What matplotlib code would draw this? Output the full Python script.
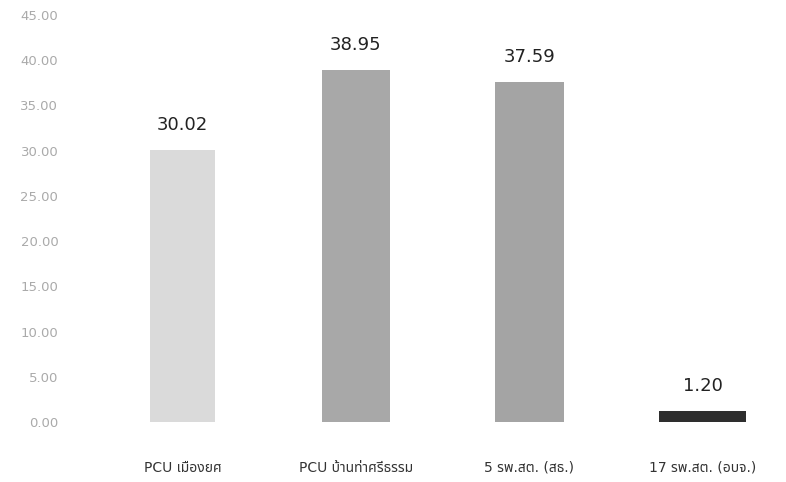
import matplotlib.pyplot as plt
from matplotlib import font_manager
from matplotlib.ft2font import FT2Font

# data
categories = ['PCU เมืองยศ', 'PCU บ้านท่าศรีธรรม', '5 รพ.สต. (สธ.)', '17 รพ.สต. (อบจ.)']
values = [30.02, 38.95, 37.59, 1.20]
bar_colors = ['#dadada', '#a8a8a8', '#a4a4a4', '#2e2e2e']
bar_widths = [0.37, 0.39, 0.40, 0.50]
yticks = [0, 5, 10, 15, 20, 25, 30, 35, 40, 45]

# find fonts with Thai glyphs, prefer proportional ones
thai_fonts = []
for path in font_manager.findSystemFonts():
    try:
        f = FT2Font(path)
        if f.get_char_index(0x0E01) and f.get_char_index(0x0E37):
            thai_fonts.append(font_manager.FontProperties(fname=path).get_name())
    except Exception:
        continue
thai_fonts = sorted(set(thai_fonts))
preferred = [n for n in thai_fonts if 'Mono' not in n and 'Typo' not in n and 'Typist' not in n]
for want in ['Noto Sans Thai', 'Noto Sans Thai Looped', 'Loma', 'Garuda', 'Waree', 'Umpush', 'Laksaman']:
    if want in thai_fonts:
        preferred.insert(0, want)
        break
label_families = ['DejaVu Sans']
if preferred:
    label_families = ['DejaVu Sans', preferred[0]]
elif thai_fonts:
    label_families = ['DejaVu Sans', thai_fonts[0]]
plt.rcParams['font.family'] = ['DejaVu Sans']

fig = plt.figure(figsize=(7.86, 4.82), dpi=100)
ax = fig.add_axes([0.0954, 0.1245, 0.9046, 0.8445])

x = range(len(categories))
ax.bar(x, values, width=bar_widths, color=bar_colors)

for xi, v in zip(x, values):
    ax.annotate(f'{v:.2f}', (xi, v), xytext=(0, 18), textcoords='offset points',
                ha='center', va='center', fontsize=13, color='#222222')

ax.set_xlim(-0.62, 3.48)
ax.set_ylim(0, 45)
ax.set_yticks(yticks)
ax.set_yticklabels([f'{t:.2f}' for t in yticks], color='#aaaaaa', fontsize=9.5)
ax.set_xticks(list(x))
ax.set_xticklabels(categories, fontsize=10, color='#333333', family=label_families)
ax.tick_params(axis='both', length=0)
ax.tick_params(axis='x', pad=28)
ax.tick_params(axis='y', pad=12)
for s in ax.spines.values():
    s.set_visible(False)

plt.savefig('out.png', dpi=100)
